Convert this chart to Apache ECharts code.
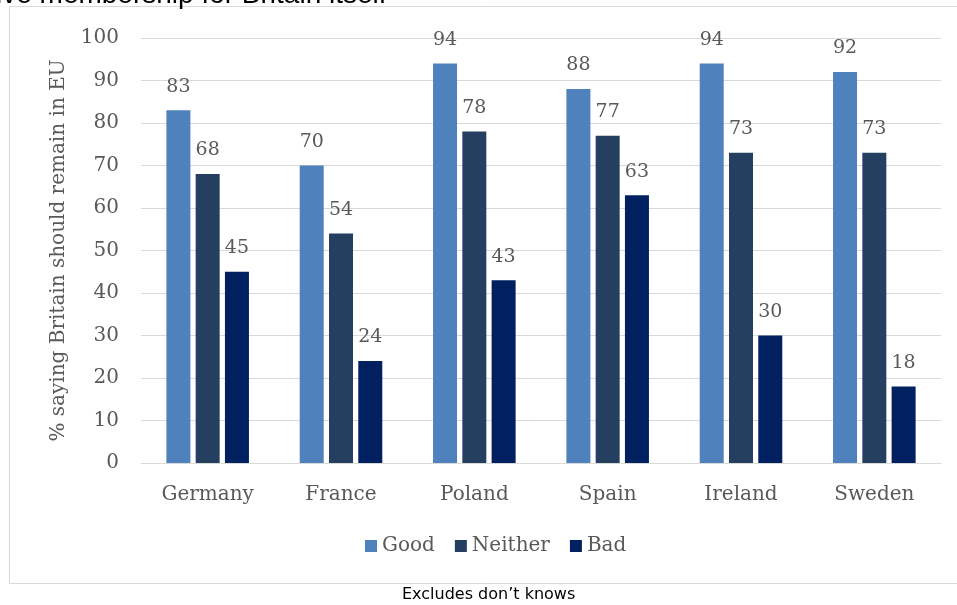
<!DOCTYPE html>
<html>
<head>
<meta charset="utf-8">
<script src="https://cdn.jsdelivr.net/npm/echarts@6/dist/echarts.min.js"></script>
<style>
  html, body { margin: 0; padding: 0; background: #fff; }
  #chart { width: 957px; height: 605px; }
</style>
</head>
<body>
<div id="chart"></div>
<script>
var countries = ["Germany", "France", "Poland", "Spain", "Ireland", "Sweden"];
var good = [83, 70, 94, 88, 94, 92];
var neither = [68, 54, 78, 77, 73, 73];
var bad = [45, 24, 43, 63, 30, 18];

var chart = echarts.init(document.getElementById("chart"));
var serif = "DejaVu Serif";
var grey = "#595959";

var labelCfg = {
  show: true,
  position: "top",
  distance: 14,
  color: grey,
  fontFamily: serif,
  fontSize: 19
};

var option = {
  animation: false,
  backgroundColor: "#fff",
  grid: { left: 141, right: 16, top: 38, bottom: 142 },
  legend: {
    bottom: 44,
    left: 360,
    itemWidth: 12,
    itemHeight: 12,
    itemGap: 20,
    icon: "rect",
    textStyle: { color: grey, fontFamily: serif, fontSize: 20 },
    data: ["Good", "Neither", "Bad"]
  },
  xAxis: {
    type: "category",
    data: countries,
    axisLine: { lineStyle: { color: "#d9d9d9" } },
    axisTick: { show: false },
    axisLabel: { color: grey, fontFamily: serif, fontSize: 20, margin: 22 }
  },
  yAxis: {
    type: "value",
    min: 0,
    max: 100,
    interval: 10,
    name: "% saying Britain should remain in EU",
    nameLocation: "middle",
    nameGap: 72,
    nameTextStyle: { color: grey, fontFamily: serif, fontSize: 20 },
    axisLine: { show: false },
    axisTick: { show: false },
    axisLabel: { color: grey, fontFamily: serif, fontSize: 20, margin: 22 },
    splitLine: { lineStyle: { color: "#d9d9d9" } }
  },
  series: [
    { name: "Good", type: "bar", data: good, barWidth: 24, barGap: "22%",
      itemStyle: { color: "#4f81bd" }, label: labelCfg },
    { name: "Neither", type: "bar", data: neither, barWidth: 24, barGap: "22%",
      itemStyle: { color: "#243f60" }, label: labelCfg },
    { name: "Bad", type: "bar", data: bad, barWidth: 24, barGap: "22%",
      itemStyle: { color: "#00205f" }, label: labelCfg }
  ],
  graphic: [
    {
      type: "rect",
      shape: { x: 9.5, y: 6.5, width: 960, height: 577 },
      style: { fill: null, stroke: "#d9d9d9", lineWidth: 1 },
      silent: true
    },
    {
      type: "text",
      left: -4,
      top: -19,
      style: {
        text: "ive membership for Britain itself",
        font: "28px 'Liberation Sans'",
        fill: "#000"
      }
    },
    {
      type: "text",
      left: 402,
      top: 587,
      style: {
        text: "Excludes don\u2019t knows",
        font: "16px 'DejaVu Sans'",
        fill: "#000"
      }
    }
  ]
};

chart.setOption(option);
</script>
</body>
</html>
